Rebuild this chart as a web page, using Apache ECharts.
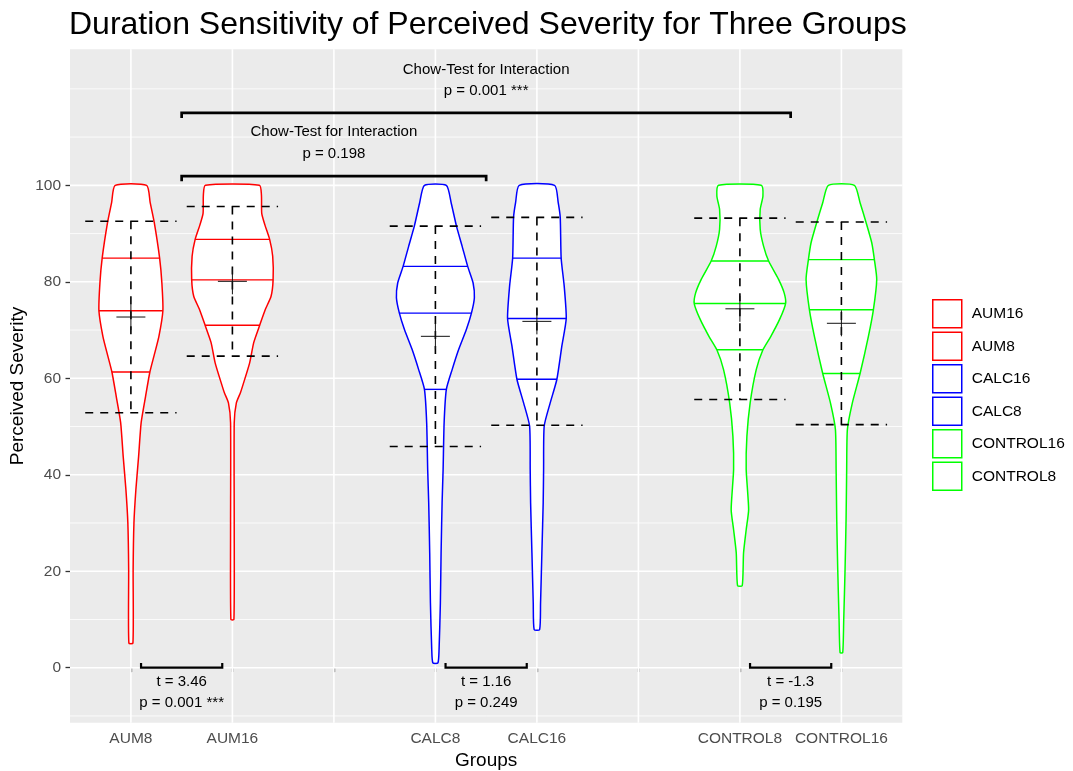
<!DOCTYPE html>
<html><head><meta charset="utf-8">
<script src="https://cdn.jsdelivr.net/npm/echarts@6/dist/echarts.min.js"></script>
<style>html,body{margin:0;padding:0;background:#fff}#c{width:1073px;height:771px}</style>
</head><body><div id="c"></div>
<script>
// ---------- data ----------
const categories = ['AUM8','AUM16','','CALC8','CALC16','','CONTROL8','CONTROL16'];
const groups = ['AUM8','AUM16','CALC8','CALC16','CONTROL8','CONTROL16'];
const legendOrder = ['AUM16','AUM8','CALC16','CALC8','CONTROL16','CONTROL8'];
const yTickValues = [0,20,40,60,80,100];
const yMinorValues = [-10,10,30,50,70,90,110,120];

// violin outlines: value levels and half widths (x-axis units)
const aum8Levels  = [100,96.4,92.3,84.9,79.8,74,68.7,64.6,61.3,56.3,50.8,43.8,36.9,30,20.3,5.1];
const aum8Widths  = [0.155,0.190,0.230,0.283,0.305,0.315,0.276,0.227,0.187,0.145,0.101,0.076,0.049,0.030,0.022,0.020];
const aum16Levels = [100,98,94.2,91.8,88.8,85.3,80.4,77,74.3,71,67.4,63.2,59.1,57,54.9,50.8,30,10];
const aum16Widths = [0.266,0.286,0.289,0.320,0.367,0.397,0.401,0.381,0.325,0.269,0.210,0.170,0.111,0.079,0.039,0.018,0.018,0.015];
const calc8Levels = [100,96.4,91.6,87.4,83.2,79.8,76.7,73.5,70.1,66,61.8,57.7,50.8,41.1,34.2,23.8,13.4,3.7,1];
const calc8Widths = [0.108,0.155,0.207,0.263,0.318,0.371,0.384,0.355,0.305,0.230,0.165,0.108,0.086,0.076,0.066,0.056,0.049,0.036,0.025];
const calc16Levels = [100,96.4,93.3,84.9,79.1,72.4,66.7,59.8,54.9,50.1,41.1,34.2,23.8,13.4,7.9];
const calc16Widths = [0.174,0.210,0.230,0.239,0.269,0.289,0.246,0.197,0.131,0.072,0.066,0.062,0.049,0.036,0.027];
const control8Levels = [100,97.8,95,90.9,87.4,84.3,80.5,77.7,75.5,72.2,68.7,65.9,61.8,54.9,48,41.1,32.8,28.6,23.8,17];
const control8Widths = [0.210,0.227,0.200,0.200,0.233,0.283,0.381,0.436,0.450,0.391,0.305,0.227,0.161,0.101,0.069,0.062,0.086,0.062,0.036,0.023];
const control16Levels = [100,96.4,92.3,88.1,84.6,80.5,74.2,68.7,61,54.9,49.4,41.1,30.7,20.3,10,3.1];
const control16Widths = [0.128,0.184,0.243,0.299,0.325,0.348,0.315,0.266,0.184,0.108,0.059,0.052,0.046,0.036,0.023,0.013];

const q1Values     = [61.3, 71.0, 57.7, 59.8, 65.9, 61.0];
const medianValues = [74.0, 80.4, 73.5, 72.4, 75.5, 74.2];
const q3Values     = [84.9, 88.8, 83.2, 84.9, 84.3, 84.6];
const meanValues   = [72.7, 80.1, 68.7, 71.8, 74.4, 71.4];
const sdValues     = [19.85, 15.5, 22.85, 21.55, 18.8, 21.0];

const tLabels = ['t = 3.46','t = 1.16','t = -1.3'];
const pLabels = ['p = 0.001 ***','p = 0.249','p = 0.195'];
const tPairs  = [['AUM8','AUM16'],['CALC8','CALC16'],['CONTROL8','CONTROL16']];
const chowTitle = 'Chow-Test for Interaction';
const chowLabels = ['p = 0.198','p = 0.001 ***'];
const chowSpans  = [[0,1],[0,2]]; // indices into tPairs

// ---------- helpers ----------
const levelsByGroup = [aum8Levels,aum16Levels,calc8Levels,calc16Levels,control8Levels,control16Levels];
const widthsByGroup = [aum8Widths,aum16Widths,calc8Widths,calc16Widths,control8Widths,control16Widths];
const posOf = name => categories.indexOf(name) + 1;
const colorOf = name => name.startsWith('AUM') ? '#FF0000' : name.startsWith('CALC') ? '#0000FF' : '#00FF00';
const FONT = '"Liberation Sans", Arial, sans-serif';

function widthAt(lv, hw, v) {
  for (let i = 0; i < lv.length; i++) if (Math.abs(lv[i] - v) < 1e-9) return hw[i];
  for (let i = 0; i < lv.length - 1; i++) {
    if (v <= lv[i] && v >= lv[i+1]) { const t = (lv[i]-v)/(lv[i]-lv[i+1]); return hw[i] + t*(hw[i+1]-hw[i]); }
  }
  return 0;
}
function seg(p1, p2, style) { return {type:'line', shape:{x1:p1[0],y1:p1[1],x2:p2[0],y2:p2[1]}, style}; }

function violinRender(gi) {
  return function (params, api) {
    const x0 = api.value(0);
    const lv = levelsByGroup[gi], hw = widthsByGroup[gi];
    const col = colorOf(groups[gi]);
    const pts = [];
    for (let i = 0; i < lv.length; i++) pts.push(api.coord([x0 + hw[i], lv[i]]));
    for (let i = lv.length - 1; i >= 0; i--) pts.push(api.coord([x0 - hw[i], lv[i]]));
    const children = [{type:'polygon', shape:{points:pts, smooth:0.2}, style:{fill:'#fff', stroke:col, lineWidth:1.5}}];
    [q1Values[gi], medianValues[gi], q3Values[gi]].forEach(q => {
      const w = widthAt(lv, hw, q);
      children.push(seg(api.coord([x0-w,q]), api.coord([x0+w,q]), {stroke:col, lineWidth:1.4}));
    });
    const hi = meanValues[gi] + sdValues[gi], lo = meanValues[gi] - sdValues[gi];
    const dash = {stroke:'#000', lineWidth:1.6, lineDash:[8,7]};
    children.push(seg(api.coord([x0-0.45,hi]), api.coord([x0+0.45,hi]), dash));
    children.push(seg(api.coord([x0-0.45,lo]), api.coord([x0+0.45,lo]), dash));
    children.push(seg(api.coord([x0,hi]), api.coord([x0,lo]), dash));
    const m = api.coord([x0, meanValues[gi]]);
    const cs = {stroke:'#111', lineWidth:1};
    children.push(seg([m[0]-14.5,m[1]],[m[0]+14.5,m[1]], cs));
    children.push(seg([m[0],m[1]-13],[m[0],m[1]+13], cs));
    return {type:'group', children};
  };
}

const series = [];
// grid lines
const gridData = yMinorValues.map(v => [0, v, 0])
  .concat(yTickValues.map(v => [0, v, 1]))
  .concat(categories.map((c, i) => [1, i + 1, 1]));
series.push({
  type:'custom', name:'__grid', coordinateSystem:'cartesian2d', silent:true, z:1, clip:false,
  encode:{x:1, y:1},
  data: gridData,
  renderItem: (params, api) => {
    const cs = params.coordSys, kind = api.value(0), v = api.value(1), major = api.value(2);
    const st = {stroke:'#FFFFFF', lineWidth: major ? 1.6 : 0.8};
    if (kind === 0) { const y = api.coord([1, v])[1]; return seg([cs.x, y], [cs.x + cs.width, y], st); }
    const x = api.coord([v, 0])[0]; return seg([x, cs.y], [x, cs.y + cs.height], st);
  }
});
groups.forEach((g, gi) => {
  series.push({
    type:'custom', name:g, coordinateSystem:'cartesian2d', z:2, clip:false,
    itemStyle:{color:'#fff', borderColor:colorOf(g), borderWidth:1.5},
    data:[[posOf(g), meanValues[gi]]],
    renderItem: violinRender(gi)
  });
});
// annotations
series.push({
  type:'custom', name:'__annot', coordinateSystem:'cartesian2d', silent:true, z:3, clip:false,
  data:[[1, 0]],
  renderItem: (params, api) => {
    const ch = [];
    const txt = (s, x, v, size) => { const p = api.coord([x, v]); return {type:'text', style:{text:s, x:p[0], y:p[1], textAlign:'center', textVerticalAlign:'middle', font: size + 'px ' + FONT, fill:'#000'}}; };
    tPairs.forEach((pr, i) => {
      const a = posOf(pr[0]) + 0.1, b = posOf(pr[1]) - 0.1;
      const st = {stroke:'#000', lineWidth:2.2};
      ch.push({type:'polyline', shape:{points:[api.coord([a,1.0]), api.coord([a,0]), api.coord([b,0]), api.coord([b,1.0])]}, style:Object.assign({fill:null}, st)});
      ch.push(txt(tLabels[i], (a+b)/2, -3.0, 15));
      ch.push(txt(pLabels[i], (a+b)/2, -7.3, 15));
    });
    const levels = [[101.9, 111.1, 106.6], [115.0, 124.0, 119.5]];
    chowSpans.forEach((sp, i) => {
      const a = (posOf(tPairs[sp[0]][0]) + posOf(tPairs[sp[0]][1])) / 2;
      const b = (posOf(tPairs[sp[1]][0]) + posOf(tPairs[sp[1]][1])) / 2;
      const [yb, yt1, yt2] = levels[i];
      ch.push({type:'polyline', shape:{points:[api.coord([a,yb-1.05]), api.coord([a,yb]), api.coord([b,yb]), api.coord([b,yb-1.05])]}, style:{fill:null, stroke:'#000', lineWidth:2.7}});
      ch.push(txt(chowTitle, (a+b)/2, yt1, 15));
      ch.push(txt(chowLabels[i], (a+b)/2, yt2, 15));
    });
    return {type:'group', children:ch};
  }
});

const chart = echarts.init(document.getElementById('c'), null, {renderer:'canvas'});
chart.setOption({
  animation:false,
  textStyle:{fontFamily:FONT},
  title:{text:'Duration Sensitivity of Perceived Severity for Three Groups', left:69, top:9, padding:0,
    textStyle:{fontSize:32, fontWeight:'normal', color:'#000', fontFamily:FONT}},
  legend:{orient:'vertical', left:932, top:299, padding:0, itemWidth:29, itemHeight:28, itemGap:3, icon:'rect', selectedMode:false,
    textStyle:{fontSize:15.5, color:'#000', fontFamily:FONT, padding:[0,0,0,5]},
    data: legendOrder.map(n => ({name:n, itemStyle:{color:'#fff', borderColor:colorOf(n), borderWidth:1.5}}))},
  grid:{left:70, right:170.7, top:49.3, bottom:48.3, show:true, backgroundColor:'#EBEBEB', borderWidth:0, outerBoundsMode:'none', containLabel:false},
  xAxis:{type:'value', min:0.4, max:8.6,
    name:'Groups', nameLocation:'middle', nameGap:29, nameMoveOverlap:false, nameTextStyle:{fontSize:19, color:'#000', fontFamily:FONT},
    axisLine:{show:false}, splitLine:{show:false},
    axisTick:{show:true, length:4.5, lineStyle:{color:'#333', width:1.3}, customValues: categories.map((c,i)=>i+1)},
    axisLabel:{customValues: categories.map((c,i)=>i+1), formatter: v => categories[Math.round(v)-1] || '', fontSize:15.5, color:'#4D4D4D', margin:8, fontFamily:FONT}},
  yAxis:{type:'value', min:-11.4, max:128.2,
    name:'Perceived Severity', nameLocation:'middle', nameGap:43, nameMoveOverlap:false, nameTextStyle:{fontSize:19, color:'#000', fontFamily:FONT},
    axisLine:{show:false}, splitLine:{show:false},
    axisTick:{show:true, length:4.5, lineStyle:{color:'#333', width:1.3}, customValues: yTickValues},
    axisLabel:{customValues: yTickValues, fontSize:15.5, color:'#4D4D4D', margin:9, fontFamily:FONT}},
  series
});
</script></body></html>
